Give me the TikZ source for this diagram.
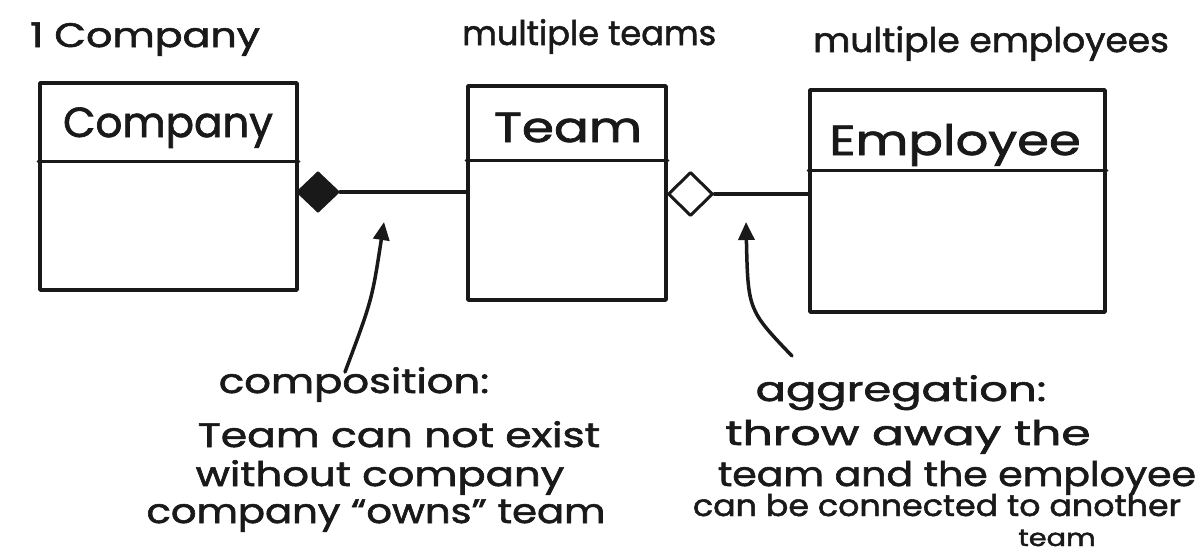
\documentclass[tikz,border=0pt]{standalone}
\usepackage{fontspec}
\setmainfont{Poppins}
\newfontfamily\handfont{Poppins}[FakeBold=1.6]
\usetikzlibrary{shapes.geometric,arrows.meta,calc}
\newcommand\handx[2]{\scalebox{#1}[1]{#2}}
\begin{document}
\begin{tikzpicture}[x=1pt,y=-1pt,
  ink/.style={line width=3.5pt, draw=black!90, line cap=round, line join=round},
  classbox/.style={ink, rectangle, inner sep=0pt},
  hand/.style={font=\handfont\fontsize{34}{38}\selectfont, inner sep=0pt, text=black!90},
  title/.style={font=\handfont\fontsize{42}{46}\selectfont, inner sep=0pt, text=black!90},
  compdia/.style={ink, diamond, fill=black!90, inner sep=0pt, minimum width=42pt, minimum height=40pt, line width=2pt},
  aggdia/.style={ink, diamond, fill=white, inner sep=0pt, minimum width=45pt, minimum height=44pt, line width=3pt},
  pointer/.style={ink, -{Triangle[length=18pt,width=16pt]}}
]
\useasboundingbox (0,0) rectangle (1200,555);
\fill[white] (0,0) rectangle (1200,555);

% class boxes
\node[classbox, minimum width=257pt, minimum height=207pt] (company) at (168.5,186.5) {};
\node[classbox, minimum width=198pt, minimum height=214pt] (team) at (567,193) {};
\node[classbox, minimum width=295pt, minimum height=222pt] (employee) at (957.5,201) {};

\draw[ink] ($(company.north west)+(0,80)$) -- ($(company.north east)+(0,80)$);
\draw[ink] ($(team.north west)+(0,76)$) -- ($(team.north east)+(0,76)$);
\draw[ink] ($(employee.north west)+(0,82)$) -- ($(employee.north east)+(0,82)$);

% titles
\node[title, anchor=base] (tcomp) at (168,137) {\handx{1.0}{Company}};
\node[title, anchor=base] (tteam) at (568,142) {\handx{1.23}{Team}};
\node[title, anchor=base] (temp) at (955,155) {\handx{1.22}{Employee}};

% multiplicity labels
\node[hand, anchor=base west] (l1) at (30,47) {\handx{1.21}{1 Company}};
\node[hand, anchor=base west] (l2) at (462,45) {\handx{0.99}{multiple teams}};
\node[hand, anchor=base west] (l3) at (813,52) {\handx{1.06}{multiple employees}};

% diamonds and connectors
\node[compdia] (cd) at (318,192) {};
\node[aggdia] (ad) at (690.5,194) {};
\draw[ink] (cd.east) -- (cd.east -| team.west);
\draw[ink] (ad.east) -- (ad.east -| employee.west);

% pointers
\coordinate (p1s) at (345,372);
\coordinate (p1e) at (384,222);
\coordinate (p2s) at (792,356);
\coordinate (p2e) at (746,222);
\draw[pointer] (p1s) .. controls (372,300) .. (p1e);
\draw[pointer] (p2s) .. controls (748,310) .. (p2e);

% explanations
\node[hand, anchor=base] (c1) at (354,393) {\handx{1.23}{composition:}};
\node[hand, anchor=base] (c2) at (399,447) {\handx{1.25}{Team can not exist}};
\node[hand, anchor=base] (c3) at (380,486) {\handx{1.23}{without company}};
\node[hand, anchor=base] (c4) at (376,523) {\handx{1.18}{company “owns” team}};

\node[hand, anchor=base] (a1) at (901,401) {\handx{1.32}{aggregation:}};
\node[hand, anchor=base] (a2) at (908,445) {\handx{1.39}{throw away the}};
\node[hand, anchor=base] (a3) at (957,486) {\handx{1.16}{team and the employee}};
\node[hand, anchor=base, font=\handfont\fontsize{30}{34}\selectfont] (a4) at (937,516) {\handx{1.11}{can be connected to another}};
\node[hand, anchor=base, font=\handfont\fontsize{24}{28}\selectfont] (a5) at (1057,546) {\handx{1.2}{team}};
\end{tikzpicture}
\end{document}
